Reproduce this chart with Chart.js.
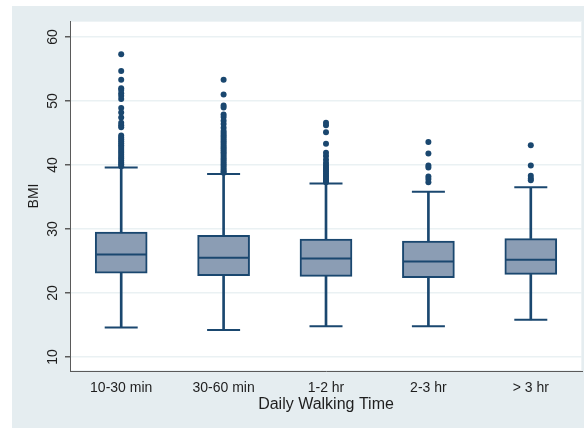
<!DOCTYPE html>
<html>
<head>
<meta charset="utf-8">
<script src="https://cdn.jsdelivr.net/npm/chart.js@4"></script>
<style>
  html, body { margin: 0; padding: 0; background: #fff; }
  canvas { display: block; }
</style>
</head>
<body>
<canvas id="bmiChart" width="584" height="428"></canvas>
<script>
// Категории и значения (оценка по картинке)
const categories = ['10-30 min', '30-60 min', '1-2 hr', '2-3 hr', '> 3 hr'];
const lowerWhisker = [14.6, 14.2, 14.8, 14.8, 15.8];
const q1 = [23.1, 22.7, 22.6, 22.4, 22.9];
const median = [26.0, 25.5, 25.4, 24.9, 25.2];
const q3 = [29.5, 29.0, 28.4, 28.1, 28.5];
const upperWhisker = [39.6, 38.6, 37.1, 35.8, 36.5];

const outliers1 = [57.3, 54.7, 53.3, 52.0, 51.7, 51.2, 50.8, 50.3, 48.9, 48.2, 47.4, 46.6, 46.2, 45.9,
  44.6, 44.3, 44.0, 43.7, 43.4, 43.1, 42.8, 42.5, 42.2, 41.9, 41.6, 41.3, 41.0, 40.7, 40.4, 40.1, 39.8];
const outliers2 = [53.3, 51.0, 49.3, 49.0, 47.9, 47.5, 46.9, 46.4, 45.8, 45.3,
  45.0, 44.7, 44.4, 44.1, 43.8, 43.5, 43.2, 42.9, 42.6, 42.3, 42.0, 41.7, 41.4, 41.1, 40.8, 40.5,
  40.2, 39.9, 39.6, 39.3, 39.0, 38.8];
const outliers3 = [46.6, 46.2, 45.1, 43.3, 41.9, 41.4, 40.8, 40.3, 39.9, 39.6, 39.3, 39.0, 38.7,
  38.4, 38.1, 37.8, 37.5, 37.3];
const outliers4 = [43.6, 41.8, 39.9, 39.6, 38.2, 37.8, 37.3];
const outliers5 = [43.1, 39.9, 38.3, 37.9, 37.6];

const yTicks = [10, 20, 30, 40, 50, 60];
const yMin = 7.8;
const yMax = 62.5;

const navy = '#1a476f';
const boxFill = '#8b9db4';
const fontFamily = '"Liberation Sans", Arial, sans-serif';

// Точки выбросов в формате {x: категория, y: значение}
const outlierPoints = [outliers1, outliers2, outliers3, outliers4, outliers5]
  .flatMap((list, i) => list.map(v => ({ x: categories[i], y: v })));

// Фон графика в стиле Stata
const backgroundPlugin = {
  id: 'stataBackground',
  beforeDraw(chart) {
    const { ctx, chartArea } = chart;
    ctx.save();
    ctx.fillStyle = '#ffffff';
    ctx.fillRect(0, 0, chart.width, chart.height);
    ctx.fillStyle = '#e5edf0';
    ctx.fillRect(12, 6, chart.width - 12, chart.height - 6);
    ctx.fillStyle = '#ffffff';
    ctx.fillRect(chartArea.left, chartArea.top, chartArea.right - chartArea.left, chartArea.bottom - chartArea.top);
    ctx.strokeStyle = '#eef3f5';
    ctx.lineWidth = 1;
    ctx.strokeRect(chartArea.left + 0.5, chartArea.top + 0.5, chartArea.right - chartArea.left - 1, chartArea.bottom - chartArea.top - 1);
    ctx.restore();
  }
};

const ctx = document.getElementById('bmiChart');
new Chart(ctx, {
  type: 'bar',
  data: {
    labels: categories,
    datasets: [
      {
        label: 'lower whisker',
        data: categories.map((c, i) => [lowerWhisker[i], q1[i]]),
        backgroundColor: navy,
        borderWidth: 0,
        barThickness: 2,
        grouped: false,
        order: 5
      },
      {
        label: 'upper whisker',
        data: categories.map((c, i) => [q3[i], upperWhisker[i]]),
        backgroundColor: navy,
        borderWidth: 0,
        barThickness: 2,
        grouped: false,
        order: 5
      },
      {
        label: 'box',
        data: categories.map((c, i) => [q1[i], q3[i]]),
        backgroundColor: boxFill,
        borderColor: navy,
        borderWidth: 2,
        borderSkipped: false,
        barThickness: 52,
        grouped: false,
        order: 4
      },
      {
        type: 'line',
        label: 'median',
        data: categories.map((c, i) => ({ x: c, y: median[i] })),
        showLine: false,
        pointStyle: 'line',
        pointRadius: 25,
        pointBorderWidth: 2,
        pointBorderColor: navy,
        order: 3
      },
      {
        type: 'line',
        label: 'caps',
        data: categories.flatMap((c, i) => [{ x: c, y: lowerWhisker[i] }, { x: c, y: upperWhisker[i] }]),
        showLine: false,
        pointStyle: 'line',
        pointRadius: 16.5,
        pointBorderWidth: 2,
        pointBorderColor: navy,
        order: 2
      },
      {
        type: 'line',
        label: 'outliers',
        data: outlierPoints,
        showLine: false,
        pointStyle: 'circle',
        pointRadius: 3,
        pointBorderWidth: 0,
        pointBackgroundColor: navy,
        order: 1
      }
    ]
  },
  options: {
    responsive: false,
    animation: false,
    devicePixelRatio: 1,
    layout: { autoPadding: false, padding: { left: 12, right: 2, top: 21, bottom: 0 } },
    plugins: {
      legend: { display: false },
      tooltip: { enabled: false }
    },
    scales: {
      x: {
        type: 'category',
        offset: true,
        afterFit(scale) {
          scale.height = 57;
          scale.paddingLeft = 0;
          scale.paddingRight = 0;
        },
        grid: { drawOnChartArea: false, drawTicks: false },
        border: { color: '#5a5a5a', width: 1 },
        ticks: {
          padding: 9,
          color: '#1e1e1e',
          font: { family: fontFamily, size: 14 }
        },
        title: {
          display: true,
          text: 'Daily Walking Time',
          color: '#1e1e1e',
          font: { family: fontFamily, size: 16 },
          padding: { top: 0, bottom: 14 }
        }
      },
      y: {
        min: yMin,
        max: yMax,
        afterFit(scale) {
          scale.width = 58;
          scale.paddingTop = 0;
          scale.paddingBottom = 0;
        },
        afterBuildTicks(scale) { scale.ticks = yTicks.map(v => ({ value: v })); },
        grid: { color: '#eaf1f3', lineWidth: 1.5, tickLength: 5, tickColor: '#5a5a5a' },
        border: { color: '#5a5a5a', width: 1 },
        ticks: {
          minRotation: 90,
          maxRotation: 90,
          crossAlign: 'center',
          padding: 4,
          color: '#1e1e1e',
          font: { family: fontFamily, size: 14 }
        },
        title: {
          display: true,
          text: 'BMI',
          color: '#1e1e1e',
          font: { family: fontFamily, size: 14 },
          padding: { top: 14, bottom: 0 }
        }
      }
    }
  },
  plugins: [backgroundPlugin]
});
</script>
</body>
</html>
